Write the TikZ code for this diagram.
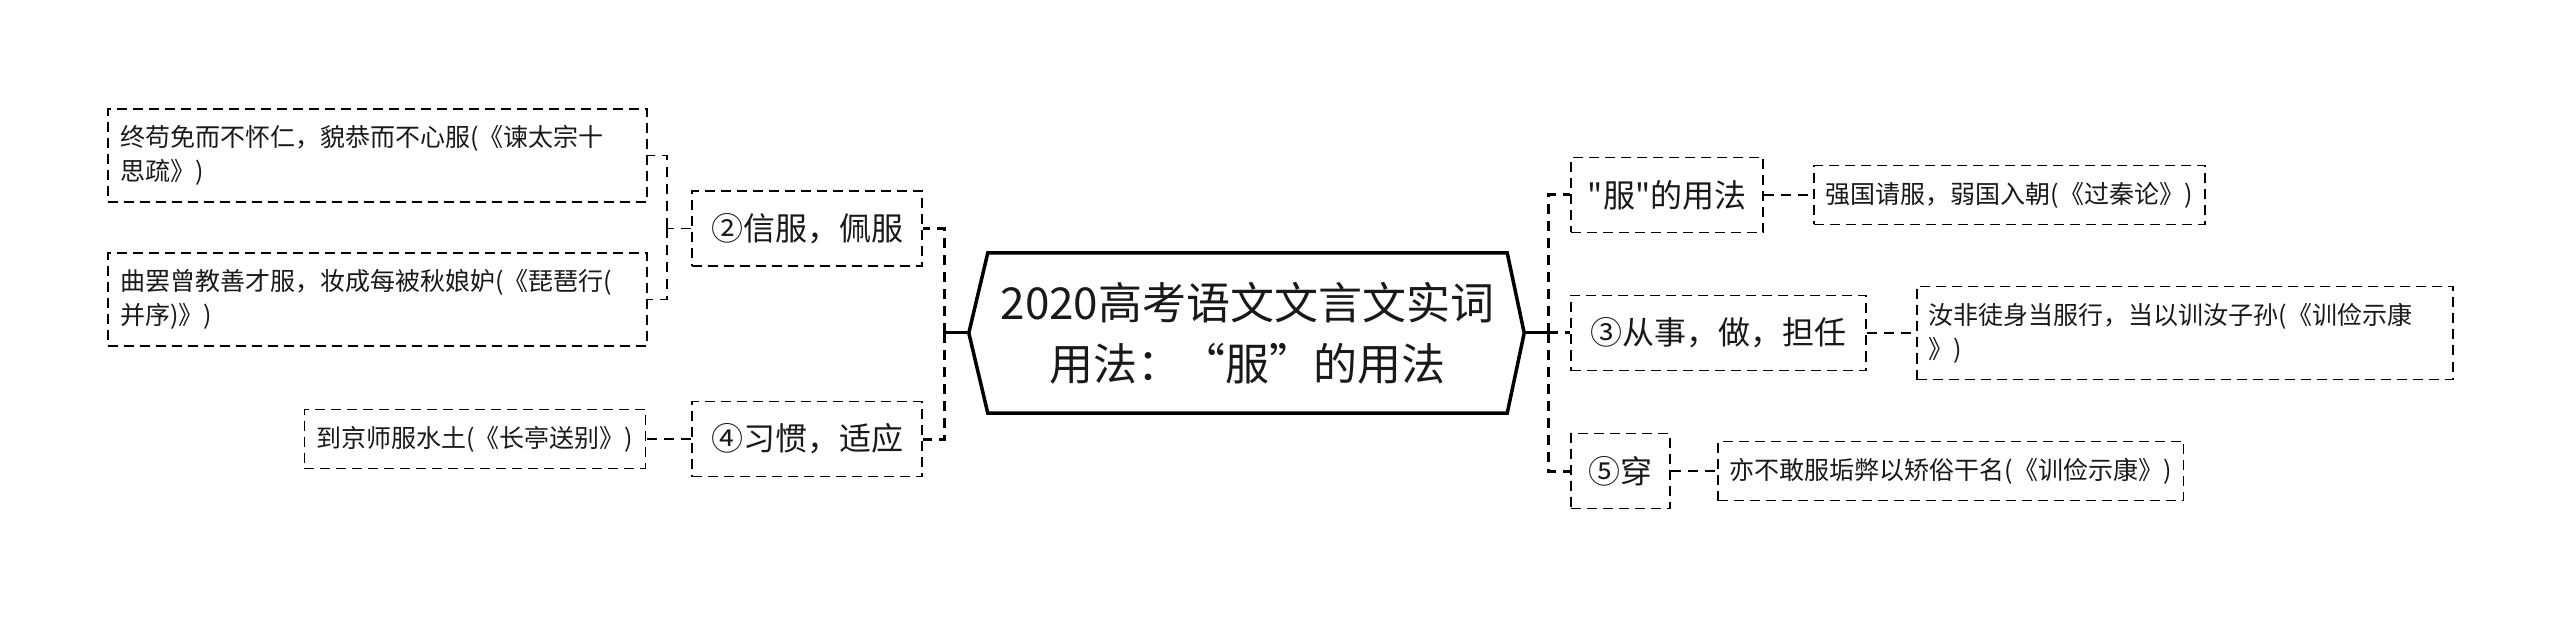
\documentclass[tikz,border=0pt]{standalone}
\usepackage{fontspec}
\newfontfamily\cjkfont{Noto Sans CJK SC}
\usepackage{tikz}
\usetikzlibrary{positioning,calc}

\begin{document}
\begin{tikzpicture}[x=1pt,y=-1pt,node distance=45pt,line join=miter,
every node/.style={text=black!90}]
\tikzstyle{rootnode}=[minimum width=519pt, minimum height=160pt, align=center,
font=\cjkfont\fontsize{44}{61}\selectfont, inner sep=0pt]
\tikzstyle{mainbox}=[draw, line width=1.8pt, dash pattern=on 10pt off 6pt,
minimum height=75pt, inner xsep=17pt, font=\cjkfont\fontsize{32}{38}\selectfont]
\tikzstyle{leafbox}=[draw, line width=1.6pt, dash pattern=on 10pt off 6pt,
minimum height=59pt, inner xsep=12pt, align=left,
font=\cjkfont\fontsize{25}{34}\selectfont]
\tikzstyle{trunk}=[line width=3pt]
\tikzstyle{limb}=[line width=3pt, dash pattern=on 10pt off 7pt]
\tikzstyle{twig}=[line width=1.8pt, dash pattern=on 10pt off 7pt]

\useasboundingbox (0,0) rectangle (2560,620);

\node[rootnode] (Root) at (1247.5,333) {2020高考语文文言文实词\\用法：“服”的用法};
\coordinate (RootL) at ([xshift=-19pt]Root.west);
\coordinate (RootR) at ([xshift=17pt]Root.east);
\draw[line width=3.5pt] (Root.north west) -- (Root.north east) -- (RootR)
  -- (Root.south east) -- (Root.south west) -- (RootL) -- cycle;

\node[mainbox, minimum width=230pt] (Xinfu) at (807,228.5) {②信服，佩服};
\node[mainbox, minimum width=230pt] (Xiguan) at (807,439) {④习惯，适应};
\node[mainbox, minimum width=192pt] (Yongfa) at (1667,195) {"服"的用法};
\node[mainbox, minimum width=295pt] (Congshi) at (1718.5,333) {③从事，做，担任};
\node[mainbox, minimum width=99pt] (Chuan) at (1620.5,471) {⑤穿};

\node[leafbox, text width=515pt, minimum height=93pt] (LeafA) at (377.5,155.5)
  {终苟免而不怀仁，貌恭而不心服(《谏太宗十\\思疏》)};
\node[leafbox, text width=515pt, minimum height=93pt] (LeafB) at (377.5,299.5)
  {曲罢曾教善才服，妆成每被秋娘妒(《琵琶行(\\并序)》)};
\node[leafbox] (LeafC) [left=45pt of Xiguan] {到京师服水土(《长亭送别》)};
\node[leafbox] (LeafD) [right=49pt of Yongfa] {强国请服，弱国入朝(《过秦论》)};
\node[leafbox, text width=512pt, minimum height=93pt] (LeafE) [right=49pt of Congshi]
  {汝非徒身当服行，当以训汝子孙(《训俭示康\\》)};
\node[leafbox] (LeafF) [right=46pt of Chuan] {亦不敢服垢弊以矫俗干名(《训俭示康》)};

\draw[trunk] (RootL) -- ++(-24,0) coordinate (LJ);
\draw[limb] (LJ) |- (Xinfu.east);
\draw[limb] (LJ) |- (Xiguan.east);

\draw[trunk] (RootR) -- ++(24,0) coordinate (RJ);
\draw[limb] (RJ) |- (Yongfa.west);
\draw[limb] (RJ) -- (Congshi.west);
\draw[limb] (RJ) |- (Chuan.west);

\draw[twig] (Xinfu.west) -- ++(-24,0) coordinate (XJ);
\draw[twig] (XJ) |- (LeafA.east);
\draw[twig] (XJ) |- (LeafB.east);
\draw[twig] (Xiguan.west) -- (LeafC.east);
\draw[twig] (Yongfa.east) -- (LeafD.west);
\draw[twig] (Congshi.east) -- (LeafE.west);
\draw[twig] (Chuan.east) -- (LeafF.west);

\end{tikzpicture}
\end{document}
